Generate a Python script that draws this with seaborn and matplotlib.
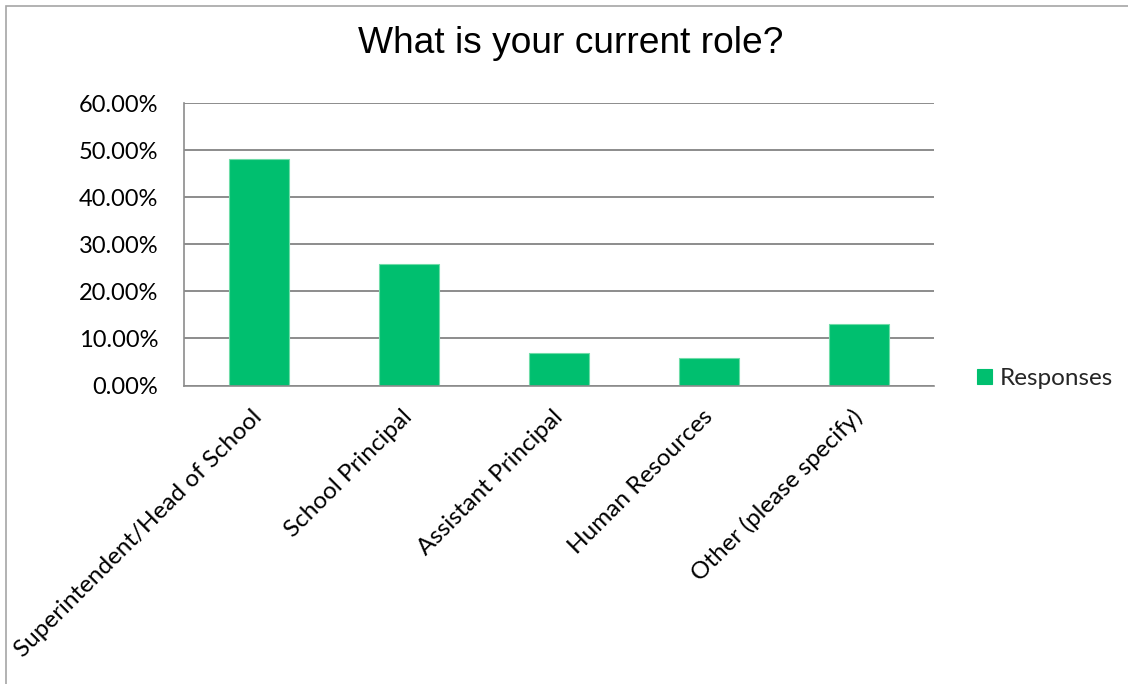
import matplotlib
matplotlib.use("Agg")
import matplotlib.pyplot as plt
import matplotlib.patches as mpatches
import seaborn as sns
import pandas as pd
import numpy as np

# Survey results: share of respondents per role
roles = [
    "Superintendent/Head of School",
    "School Principal",
    "Assistant Principal",
    "Human Resources",
    "Other (please specify)",
]
shares = [48.2, 25.9, 7.0, 5.9, 13.0]
series_name = "Responses"
y_ticks = [0, 10, 20, 30, 40, 50, 60]

bar_color = "#00BF6F"
grid_color = "#8C8C8C"

sns.set_theme(style="white")
plt.rcParams["font.family"] = ["Lato", "DejaVu Sans"]

df = pd.DataFrame({"role": roles, "share": shares, "series": series_name})

W, H = 1128, 684
fig = plt.figure(figsize=(W / 100, H / 100), dpi=100)
left, right, top, bottom = 184, 934, 103, 385.5
ax = fig.add_axes([left / W, 1 - bottom / H, (right - left) / W, (bottom - top) / H])

sns.barplot(data=df, x="role", y="share", hue="series", palette=[bar_color],
            width=0.4, ax=ax, saturation=1, legend=True,
            edgecolor="#6FDCA8", linewidth=0.8)

ax.set_ylim(0, 60)
ax.set_xlim(-0.5, len(roles) - 0.5)
ax.set_yticks(y_ticks)
ax.set_yticklabels([f"{v:.2f}%" for v in y_ticks], fontsize=17, color="#000000")
ax.yaxis.grid(True, color=grid_color, linewidth=1.4)
ax.set_axisbelow(True)

# Category labels, rotated
ax.set_xticks(range(len(roles)))
ax.set_xticklabels(roles, rotation=45, ha="right", va="center",
                   rotation_mode="anchor", fontsize=17.5, color="#000000")
ax.tick_params(axis="x", which="major", length=0, pad=20)
ax.set_xticks(np.arange(-0.5, len(roles)), minor=True)
ax.tick_params(axis="x", which="minor", length=6, color=grid_color, width=1.2, direction="out")
ax.tick_params(axis="y", length=5, color=grid_color, width=1.2, direction="out", pad=13.5)

ax.set_xlabel("")
ax.set_ylabel("")
for side in ["top", "right"]:
    ax.spines[side].set_visible(False)
for side in ["left", "bottom"]:
    ax.spines[side].set_color(grid_color)
    ax.spines[side].set_linewidth(1.2)

handles, labels = ax.get_legend_handles_labels()
for h in handles:
    h.set_edgecolor(bar_color)
ax.legend(handles, labels, loc="center left", bbox_to_anchor=(977 / W, 1 - 378.5 / H),
          bbox_transform=fig.transFigure, frameon=False, fontsize=17.5,
          handlelength=0.62, handleheight=0.62, handletextpad=0.3,
          borderaxespad=0, borderpad=0)

fig.text(571 / W, 1 - 53 / H, "What is your current role?", ha="center", va="baseline",
         fontsize=26.7, family="Liberation Sans", color="#000000")

# Chart area border
fig.patches.append(mpatches.Rectangle((6 / W, -0.1), 1.2, 1 - 6 / H + 0.1,
                                      transform=fig.transFigure, fill=False,
                                      edgecolor="#A6A6A6", linewidth=1.2))

fig.savefig("out.png", dpi=100)
